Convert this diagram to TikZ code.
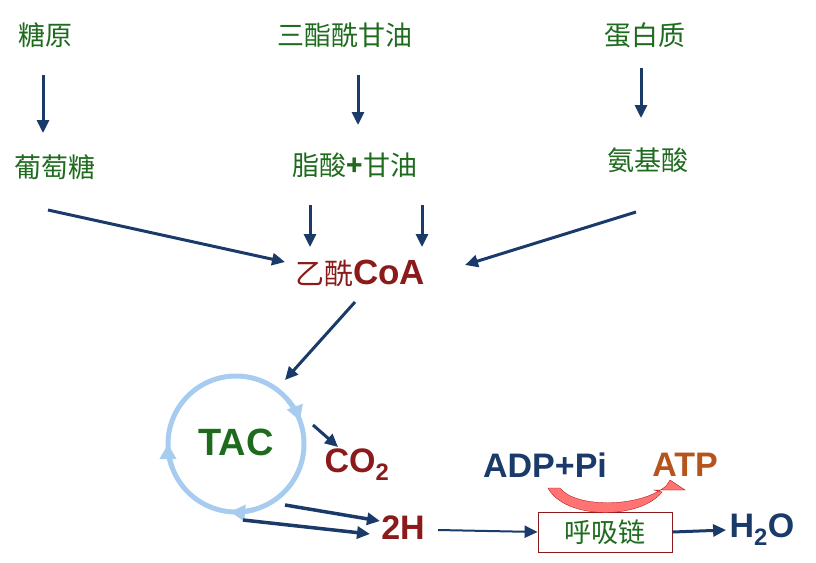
\documentclass[tikz,border=0pt]{standalone}
\usepackage{fontspec}
\setmainfont{Liberation Sans}
\newfontfamily\cjk{Noto Sans CJK SC}
\usetikzlibrary{arrows.meta}
\definecolor{dg}{HTML}{1E6B1E}
\definecolor{db}{HTML}{1A3A6A}
\definecolor{dr}{HTML}{8B1A1A}
\definecolor{lb}{HTML}{A8CCF0}
\definecolor{br}{HTML}{B5541C}
\begin{document}
\begin{tikzpicture}[x=1pt,y=-1pt,
 cn/.style={font=\cjk\fontsize{27}{30}\selectfont, text=dg},
 lt/.style={font=\bfseries\fontsize{34}{36}\selectfont},
 ar/.style={draw=db, line width=3pt, -{Triangle[length=13pt,width=12pt]}},
 ca/.style={draw=lb, line width=5pt, -{Triangle[length=15pt,width=16pt]}}]
\useasboundingbox (0,0) rectangle (816,562);
\node[cn] (ty) at (45,35) {糖原};
\node[cn] (sz) at (345,35) {三酯酰甘油};
\node[cn] (db) at (645,35) {蛋白质};
\node[cn] (pt) at (55,167) {葡萄糖};
\node[cn] (zs) at (355,165) {脂酸\textbf{+}甘油};
\node[cn] (aj) at (648,160) {氨基酸};
\node (ac) at (360,273) {\color{dr}{\cjk\fontsize{29}{30}\selectfont 乙酰}{\bfseries\fontsize{35}{36}\selectfont CoA}};
\coordinate (a1) at (43,75); \coordinate (a1e) at (43,133);
\coordinate (a2) at (358,75); \coordinate (a2e) at (358,125);
\coordinate (a3) at (641,68); \coordinate (a3e) at (641,118);
\draw[ar] (a1) -- (a1e);
\draw[ar] (a2) -- (a2e);
\draw[ar] (a3) -- (a3e);
\coordinate (b1) at (48,210); \coordinate (b1e) at (285,262);
\coordinate (b2) at (310,205); \coordinate (b2e) at (310,247);
\coordinate (b3) at (422,205); \coordinate (b3e) at (422,247);
\coordinate (b4) at (636,212); \coordinate (b4e) at (465,265);
\draw[ar] (b1) -- (b1e);
\draw[ar] (b2) -- (b2e);
\draw[ar] (b3) -- (b3e);
\draw[ar] (b4) -- (b4e);
\coordinate (c1) at (355,302); \coordinate (c1e) at (285,380);
\draw[ar] (c1) -- (c1e);
% cycle
\coordinate (cc) at (236,444);
\draw[lb, line width=5pt] (cc) circle (68);
\draw[ca] (cc) ++(-40:68) arc (-40:-20:68);
\draw[ca] (cc) ++(160:68) arc (160:180:68);
\draw[ca] (cc) ++(75:68) arc (75:95:68);
\node[text=dg, font=\bfseries\fontsize{38}{40}\selectfont] (tac) at (236,442) {TAC};
\node[lt, text=dr] (co) at (357,465) {CO\textsubscript{2}};
\coordinate (d1) at (313,425); \coordinate (d1e) at (338,447);
\draw[ar] (d1) -- (d1e);
\node[lt, text=dr] (h2) at (403,528) {2H};
\coordinate (e1) at (285,505); \coordinate (e1e) at (380,521);
\coordinate (e2) at (243,520); \coordinate (e2e) at (370,534);
\draw[ar, line width=3.5pt] (e1) -- (e1e);
\draw[ar, line width=3.5pt] (e2) -- (e2e);
\node[draw=dr, line width=0.8pt, minimum width=134pt, minimum height=40pt, cn, inner sep=0pt] (hx) at (605,532) {呼吸链};
\coordinate (f1) at (438,530);
\draw[ar, line width=2pt] (f1) -- (hx.west);
\node[lt, text=db] (wo) at (762,530) {H\textsubscript{2}O};
\draw[ar] (hx.east) -- (wo.west);
\node[lt, text=db] (adp) at (545,465) {ADP+Pi};
\node[lt, text=br] (atp) at (685,465) {ATP};
\fill[red!55!white, draw=red!70!black, line width=0.3pt]
  (548,488) .. controls (565,520) and (640,520) .. (662,492) -- (654,490) -- (685,490) -- (670,480) -- (666,486)
  .. controls (640,508) and (575,508) .. (560,488) -- cycle;
\end{tikzpicture}
\end{document}
